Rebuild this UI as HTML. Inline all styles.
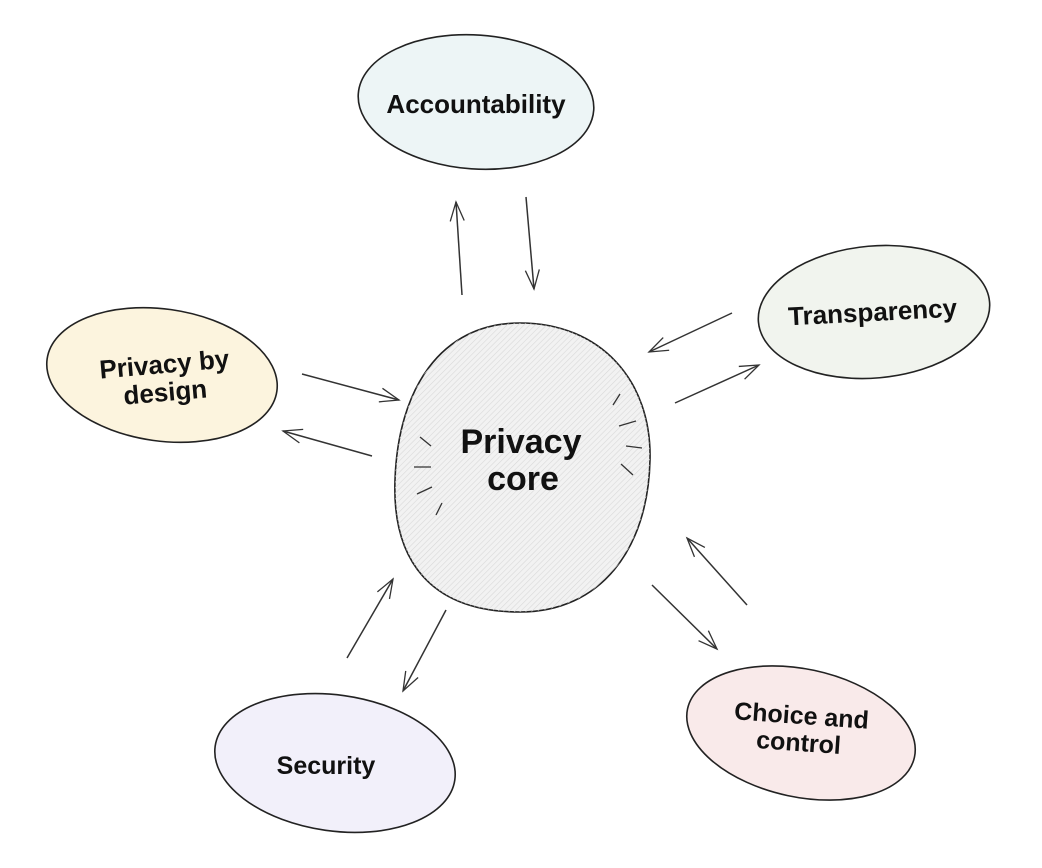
<!DOCTYPE html>
<html><head><meta charset="utf-8"><style>html,body{margin:0;background:#fff}svg{display:block}</style></head><body>
<svg width="1042" height="868" viewBox="0 0 1042 868" xmlns="http://www.w3.org/2000/svg">
<defs>
<pattern id="h" width="4" height="4" patternUnits="userSpaceOnUse" patternTransform="rotate(45)"><line x1="0" y1="0" x2="0" y2="4" stroke="#d8d8d8" stroke-width="1.2"/></pattern>
<marker id="a" markerWidth="22" markerHeight="16" refX="20" refY="8" orient="auto" markerUnits="userSpaceOnUse"><path d="M1,1 L20,8 L1,15" fill="none" stroke="#333" stroke-width="1.3"/></marker>
</defs>
<g stroke="#222" stroke-width="1.6">
<ellipse cx="476" cy="102" rx="118" ry="67" fill="#edf5f6" transform="rotate(4 476 102)"/>
<ellipse cx="874" cy="312" rx="116" ry="66" fill="#f1f4ee" transform="rotate(-5 874 312)"/>
<ellipse cx="162" cy="375" rx="116" ry="66" fill="#fcf4de" transform="rotate(8 162 375)"/>
<ellipse cx="801" cy="733" rx="116" ry="64" fill="#f9eaea" transform="rotate(12 801 733)"/>
<ellipse cx="335" cy="763" rx="121" ry="68" fill="#f2f0fa" transform="rotate(8 335 763)"/>
<path d="M520,323 C600,323 652,380 650,460 C648,550 600,612 520,612 C430,612 392,560 395,480 C398,390 440,323 520,323 Z" fill="#f2f2f2"/>
<path d="M520,323 C600,323 652,380 650,460 C648,550 600,612 520,612 C430,612 392,560 395,480 C398,390 440,323 520,323 Z" fill="url(#h)" stroke="none"/>
</g>
<g stroke="#333" stroke-width="1.3" fill="none">
<path d="M420,437 L431,446 M414,467 L431,467 M417,494 L432,487 M436,515 L442,503 M613,405 L620,394 M619,426 L636,421 M626,446 L642,448 M621,464 L633,475"/>
</g>
<g stroke="#333" stroke-width="1.5" fill="none" marker-end="url(#a)">
<line x1="462" y1="295" x2="456" y2="202"/>
<line x1="526" y1="197" x2="534" y2="289"/>
<line x1="732" y1="313" x2="649" y2="352"/>
<line x1="675" y1="403" x2="759" y2="365"/>
<line x1="302" y1="374" x2="399" y2="400"/>
<line x1="372" y1="456" x2="283" y2="431"/>
<line x1="347" y1="658" x2="393" y2="579"/>
<line x1="446" y1="610" x2="403" y2="691"/>
<line x1="652" y1="585" x2="717" y2="649"/>
<line x1="747" y1="605" x2="687" y2="538"/>
</g>
<g font-family="Liberation Sans, sans-serif" font-weight="bold" fill="#111" text-anchor="middle">
<text x="476" y="113" font-size="26">Accountability</text>
<text x="873" y="321" font-size="26" transform="rotate(-3 873 321)">Transparency</text>
<text x="165" y="373" font-size="26" transform="rotate(-5 165 373)">Privacy by</text>
<text x="166" y="401" font-size="26" transform="rotate(-5 166 401)">design</text>
<text x="521" y="453" font-size="34">Privacy</text>
<text x="523" y="490" font-size="34">core</text>
<text x="801" y="724" font-size="25" transform="rotate(4 801 724)">Choice and</text>
<text x="798" y="751" font-size="25" transform="rotate(4 798 751)">control</text>
<text x="326" y="774" font-size="25">Security</text>
</g>
</svg>
</body></html>
